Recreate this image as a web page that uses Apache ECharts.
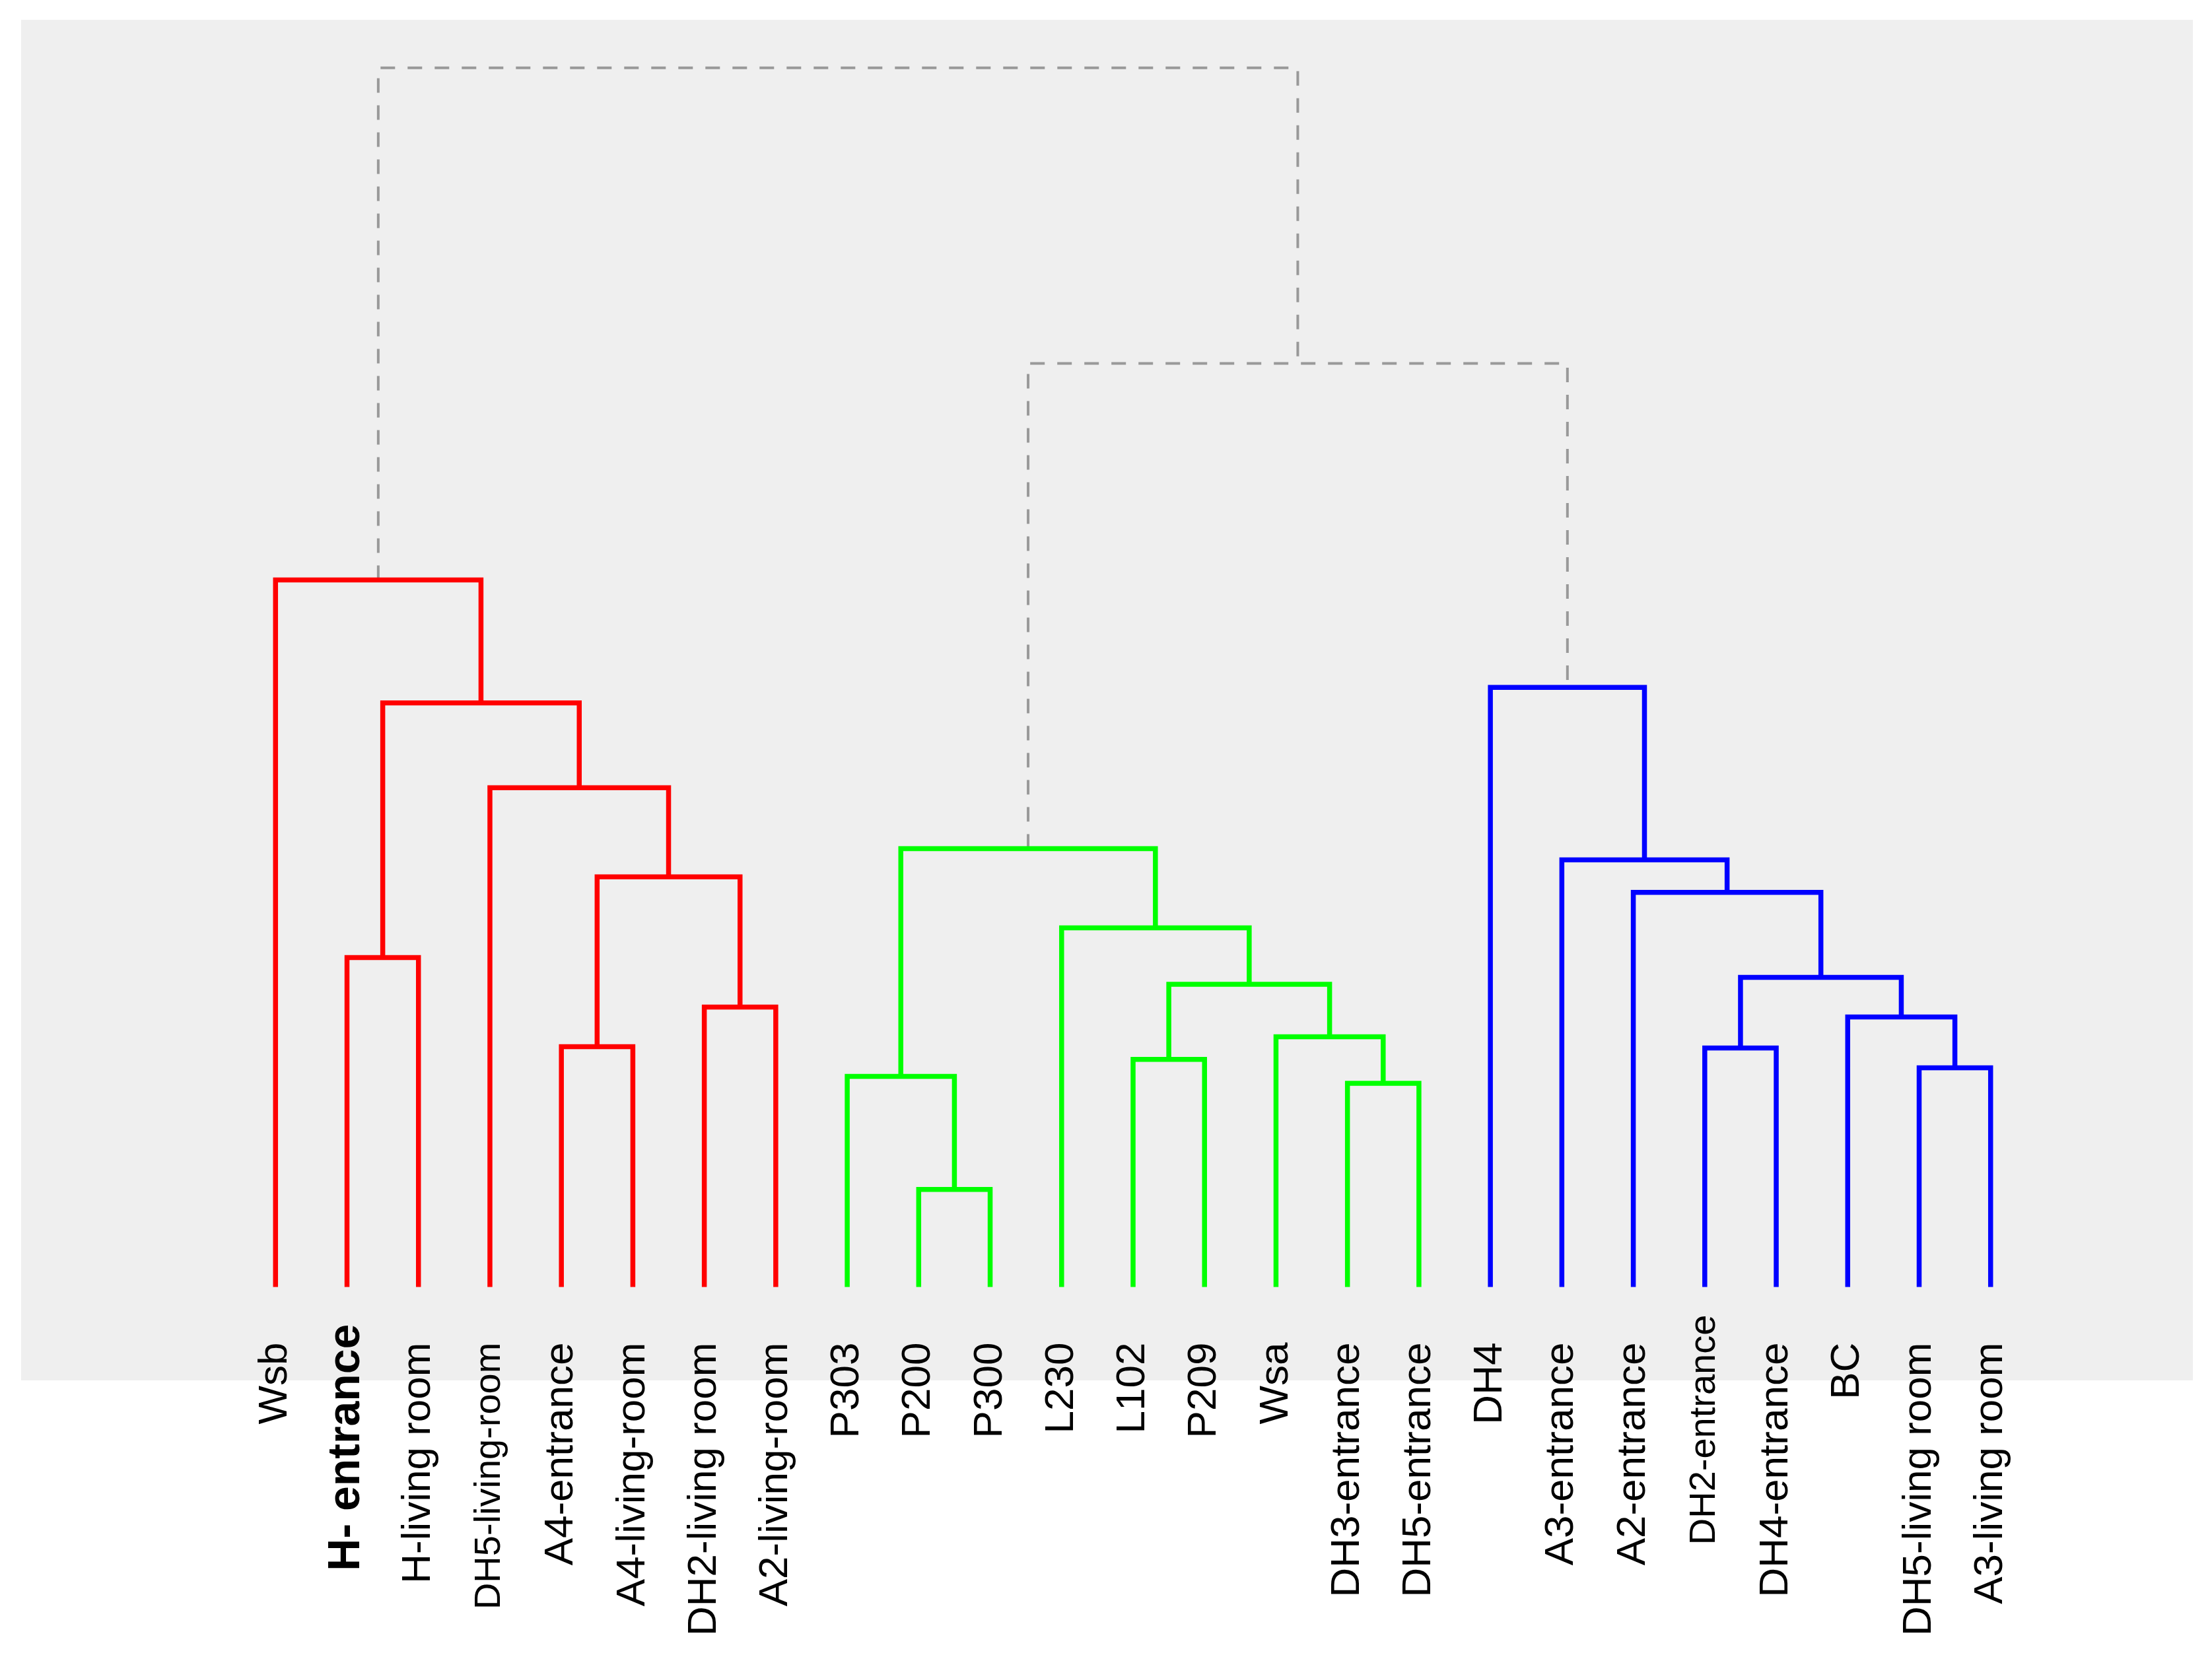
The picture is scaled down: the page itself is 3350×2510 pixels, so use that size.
<!DOCTYPE html>
<html>
<head>
<meta charset="utf-8">
<script src="https://cdn.jsdelivr.net/npm/echarts@6/dist/echarts.min.js"></script>
<style>
html,body{margin:0;padding:0;background:#ffffff;}
#chart{width:3350px;height:2510px;}
</style>
</head>
<body>
<div id="chart"></div>
<script>
// ---- data ----
const leafLabels = ['Wsb','H- entrance','H-living room','DH5-living-room','A4-entrance','A4-living-room','DH2-living room','A2-living-room',
  'P303','P200','P300','L230','L102','P209','Wsa','DH3-entrance','DH5-entrance',
  'DH4','A3-entrance','A2-entrance','DH2-entrance','DH4-entrance','BC','DH5-living room','A3-living room'];
const leafCluster = [1,1,1,1,1,1,1,1, 2,2,2,2,2,2,2,2,2, 3,3,3,3,3,3,3,3];
// merges: node id = leafLabels.length + merge index
const mergeLeft   = [9, 8, 15, 12, 14, 28, 11, 26, 1, 4, 6, 34, 3, 33, 0, 20, 23, 22, 40, 19, 18, 17, 32, 39];
const mergeRight  = [10, 25, 16, 13, 27, 29, 30, 31, 2, 5, 7, 35, 36, 37, 38, 21, 24, 41, 42, 43, 44, 45, 46, 47];
const mergeHeight = [0.69, 1.49, 1.44, 1.61, 1.77, 2.14, 2.54, 3.10, 2.33, 1.70, 1.98, 2.90, 3.53, 4.13, 5.00, 1.69, 1.55, 1.91, 2.19, 2.79, 3.02, 4.24, 6.53, 8.62];

// ---- styles ----
const clusterColors = {1:'#ff0000', 2:'#00ff00', 3:'#0000ff'};
const labelStyle = {
  'H- entrance': {fontSize: 68, fontWeight: 'bold', dy: 56},
  'DH5-living-room': {fontSize: 56},
  'DH2-entrance': {fontSize: 56, dy: 42}
};

// ---- build tree geometry ----
const n = leafLabels.length;
const nodeX = [], nodeH = [], nodeC = [];
for (let i = 0; i < n; i++) { nodeX.push(i); nodeH.push(0); nodeC.push(leafCluster[i]); }
const linkData = [];
for (let k = 0; k < mergeLeft.length; k++) {
  const a = mergeLeft[k], b = mergeRight[k], h = mergeHeight[k];
  const c = (nodeC[a] && nodeC[a] === nodeC[b]) ? nodeC[a] : 0;
  linkData.push([nodeX[a], nodeH[a], nodeX[b], nodeH[b], h, c]);
  nodeX.push((nodeX[a] + nodeX[b]) / 2);
  nodeH.push(h);
  nodeC.push(c);
}
const labelData = leafLabels.map((name, i) => ({name: name, value: [i, 0]}));

const chart = echarts.init(document.getElementById('chart'));
chart.setOption({
  animation: false,
  backgroundColor: '#ffffff',
  grid: {left: 32, right: 29, top: 30, bottom: 419, show: true, backgroundColor: '#efefef', borderWidth: 0},
  xAxis: {type: 'value', min: -3.56, max: 26.83, show: false},
  yAxis: {type: 'value', min: -0.66, max: 8.96, show: false},
  series: [
    {
      type: 'custom',
      data: linkData,
      renderItem: function (params, api) {
        const xl = api.value(0), hl = api.value(1), xr = api.value(2), hr = api.value(3), h = api.value(4), c = api.value(5);
        const pts = [api.coord([xl, hl]), api.coord([xl, h]), api.coord([xr, h]), api.coord([xr, hr])];
        const colored = c > 0;
        return {
          type: 'polyline',
          z2: colored ? 10 : 1,
          shape: {points: pts},
          style: {
            stroke: colored ? clusterColors[c] : '#999999',
            lineWidth: colored ? 7.5 : 4,
            lineDash: colored ? null : [22, 19],
            fill: null,
            lineJoin: 'miter'
          }
        };
      }
    },
    {
      type: 'custom',
      data: labelData,
      renderItem: function (params, api) {
        const p = api.coord([api.value(0), api.value(1)]);
        const name = leafLabels[params.dataIndex];
        const st = labelStyle[name] || {};
        return {
          type: 'text',
          x: p[0],
          y: p[1] + (st.dy !== undefined ? st.dy : 84),
          rotation: Math.PI / 2,
          style: {
            text: name,
            fill: '#000000',
            fontSize: st.fontSize || 62,
            fontWeight: st.fontWeight || 'normal',
            fontFamily: '"Liberation Sans", Arial, sans-serif',
            align: 'right',
            verticalAlign: 'middle'
          }
        };
      }
    }
  ]
});
</script>
</body>
</html>
